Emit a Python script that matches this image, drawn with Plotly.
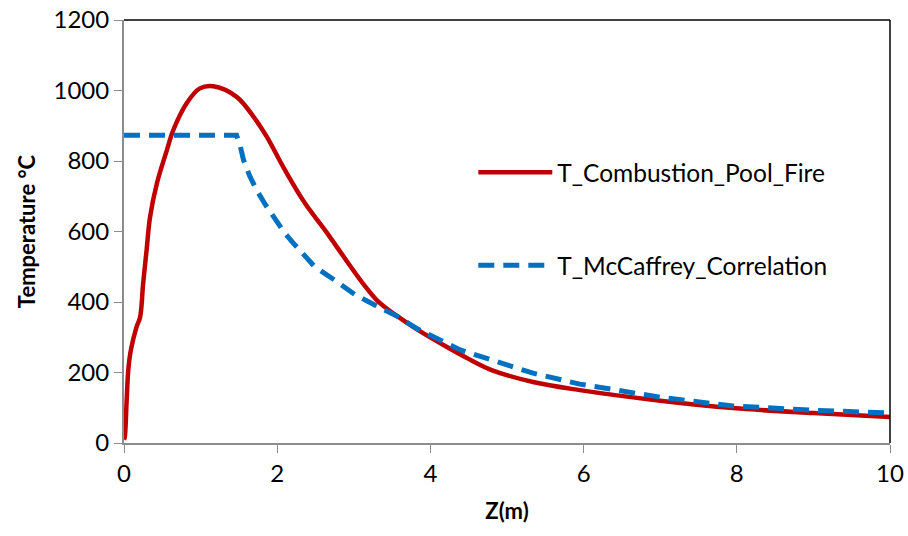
import plotly.graph_objects as go

z_fire = [0, 0.01, 0.035, 0.056, 0.09, 0.165, 0.21, 0.25, 0.295, 0.34, 0.43, 0.56, 0.644, 0.818, 0.99,
          1.166, 1.47, 1.69, 1.863, 2.102, 2.363, 2.624, 2.928, 3.146, 3.32, 3.54, 3.82, 4.17, 4.47,
          4.8, 5.34, 5.95, 7.0, 7.95, 9.0, 10]
t_fire = [10, 17, 122, 207, 264, 330, 357, 453, 547, 641, 737, 831, 888, 964, 1006,
          1012, 982, 926, 869, 774, 680, 604, 510, 445, 401, 364, 323, 278, 242,
          207, 173, 150, 120, 99, 85, 74]

z_mc = [0, 1.47, 1.52, 1.56, 1.64, 1.73, 1.84, 1.95, 2.10, 2.21, 2.35, 2.49, 2.75, 3.02, 3.28,
        3.58, 3.82, 4.39, 5.34, 5.95, 7.0, 7.95, 9.0, 10]
t_mc = [873, 873, 840, 803, 758, 718, 678, 641, 595, 567, 531, 500, 462, 420, 391,
        358, 325, 264, 198, 167, 130, 105, 93, 85]

x_ticks = [0, 2, 4, 6, 8, 10]
y_ticks = [0, 200, 400, 600, 800, 1000, 1200]

FONT = "Lato"

fig = go.Figure()
fig.add_trace(go.Scatter(x=z_fire, y=t_fire, mode="lines", name="T_Combustion_Pool_Fire",
                         line=dict(color="#C00000", width=4.5, shape="spline", smoothing=1.0),
                         legend="legend"))
fig.add_trace(go.Scatter(x=z_mc, y=t_mc, mode="lines", name="T_McCaffrey_Correlation",
                         line=dict(color="#0070C0", width=5, dash="16px,9px"),
                         legend="legend2"))

fig.update_layout(
    width=908, height=536,
    margin=dict(l=124, r=18, t=20, b=93),
    paper_bgcolor="white", plot_bgcolor="white",
    font=dict(family=FONT, size=24, color="black"),
    showlegend=True,
    legend=dict(x=0.456, y=0.64, xanchor="left", yanchor="middle", bgcolor="rgba(0,0,0,0)",
                font=dict(family=FONT, size=24.5), itemwidth=74),
    legend2=dict(x=0.456, y=0.42, xanchor="left", yanchor="middle", bgcolor="rgba(0,0,0,0)",
                 font=dict(family=FONT, size=24.5), itemwidth=74),
    xaxis=dict(range=[0, 10], tickvals=x_ticks, ticks="outside", ticklen=8, tickcolor="#8c8c8c",
               showline=True, linecolor="#8c8c8c", linewidth=2, showgrid=False, zeroline=False,
               automargin=False,
               title=dict(text="<b>Z(m)</b>", font=dict(family=FONT, size=22), standoff=18),
               tickfont=dict(family=FONT, size=24)),
    yaxis=dict(range=[0, 1200], tickvals=y_ticks, ticks="outside", ticklen=8, tickcolor="#8c8c8c",
               showline=True, linecolor="#8c8c8c", linewidth=2, showgrid=False, zeroline=False,
               automargin=False,
               title=dict(text="<b>Temperature °C</b>", font=dict(family=FONT, size=22), standoff=12),
               tickfont=dict(family=FONT, size=24)),
    shapes=[
        dict(type="line", xref="paper", yref="paper", x0=0, x1=1, y0=1, y1=1,
             line=dict(color="black", width=1.5)),
        dict(type="line", xref="paper", yref="paper", x0=1, x1=1, y0=0, y1=1,
             line=dict(color="black", width=1.5)),
    ],
)

fig.write_html("out.html")
